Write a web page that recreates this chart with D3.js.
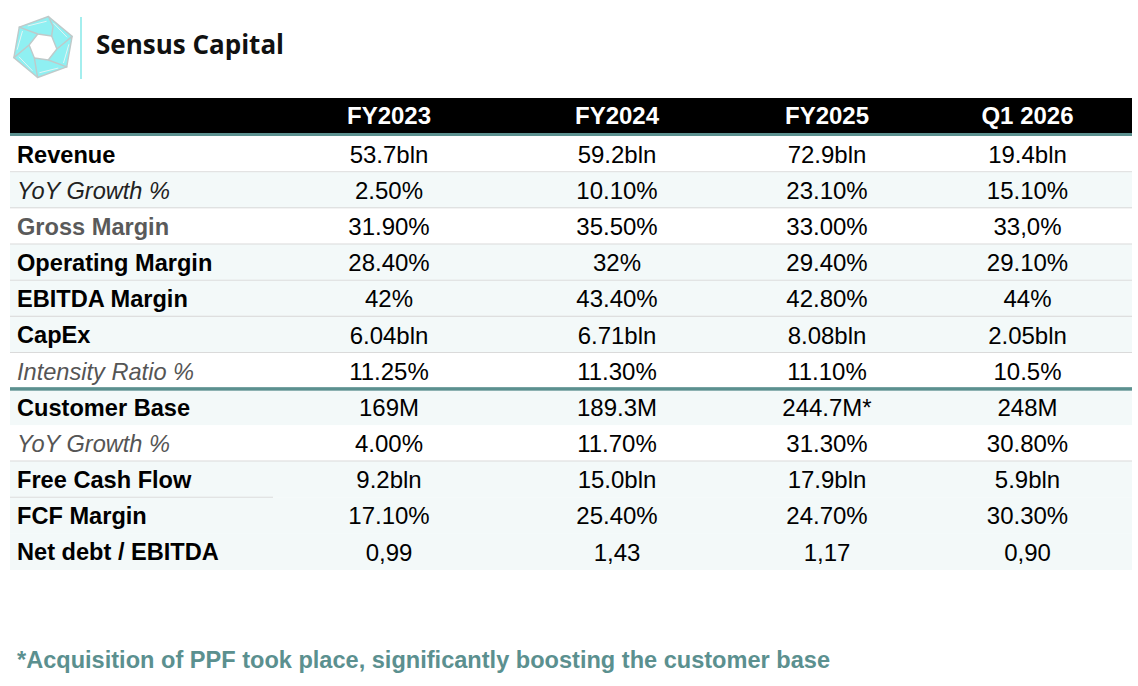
<!DOCTYPE html>
<html>
<head>
<meta charset="utf-8">
<script src="https://cdn.jsdelivr.net/npm/d3@7"></script>
<style>
  body { margin: 0; background: #fff; }
  svg { display: block; }
</style>
</head>
<body>
<svg id="chart" width="1138" height="686"></svg>
<script>
// ---- data ----
const columns = ['FY2023', 'FY2024', 'FY2025', 'Q1 2026'];
const rowLabels = [
  'Revenue', 'YoY Growth %', 'Gross Margin', 'Operating Margin', 'EBITDA Margin', 'CapEx',
  'Intensity Ratio %', 'Customer Base', 'YoY Growth %', 'Free Cash Flow', 'FCF Margin', 'Net debt / EBITDA'
];
const fy2023 = ['53.7bln', '2.50%', '31.90%', '28.40%', '42%', '6.04bln', '11.25%', '169M', '4.00%', '9.2bln', '17.10%', '0,99'];
const fy2024 = ['59.2bln', '10.10%', '35.50%', '32%', '43.40%', '6.71bln', '11.30%', '189.3M', '11.70%', '15.0bln', '25.40%', '1,43'];
const fy2025 = ['72.9bln', '23.10%', '33.00%', '29.40%', '42.80%', '8.08bln', '11.10%', '244.7M*', '31.30%', '17.9bln', '24.70%', '1,17'];
const q12026 = ['19.4bln', '15.10%', '33,0%', '29.10%', '44%', '2.05bln', '10.5%', '248M', '30.80%', '5.9bln', '30.30%', '0,90'];
const footnote = '*Acquisition of PPF took place, significantly boosting the customer base';

// ---- styling per row (kept apart from values) ----
// kind: b = bold black, bg = bold grey, i = italic dark, ig = italic grey
const labelKind = ['b', 'i', 'bg', 'b', 'b', 'b', 'ig', 'b', 'ig', 'b', 'b', 'b'];
const shaded = [false, true, false, true, true, true, false, true, false, true, true, true];
// line under row: full, none, partial (label column only), teal
const lineBelow = ['full', 'full', 'full', 'full', 'full', 'full', 'teal', 'none', 'full', 'partial', 'none', 'none'];

const colValues = [fy2023, fy2024, fy2025, q12026];

const teal = '#5b908f';
const shade = '#f3f9f9';
const sepColor = '#dadada';
const font = "'Liberation Sans', Arial, Helvetica, sans-serif";

const L = { left: 10, right: 1132, labelRight: 273, headTop: 98, headBottom: 133, bodyTop: 136, bodyBottom: 570 };
const colEdges = [275, 503, 731, 923, 1132];

const svg = d3.select('#chart');

// ---- scales ----
const y = d3.scaleBand()
  .domain(d3.range(rowLabels.length))
  .range([L.bodyTop, L.bodyBottom]);

const x = d3.scaleOrdinal()
  .domain(columns)
  .range(columns.map((c, i) => (colEdges[i] + colEdges[i + 1]) / 2));

// ---- logo ----
const logo = svg.append('g').attr('class', 'g_logo').attr('transform', 'translate(43,47)');
const hexPt = (r, a) => [r * Math.cos((a - 90) * Math.PI / 180), r * Math.sin((a - 90) * Math.PI / 180)];
d3.range(6).forEach(i => {
  const a0 = i * 60 + 10, a1 = a0 + 60;
  const pts = [hexPt(31, a0), hexPt(31, a1), hexPt(23, a1 + 16), hexPt(14, a1 + 28), hexPt(14, a0 + 28)];
  logo.append('path')
    .attr('d', d3.line()(pts) + 'Z')
    .style('fill', '#8ff0f2')
    .style('stroke', '#bfcaca')
    .style('stroke-width', 1.4)
    .style('stroke-linejoin', 'round');
  // inner fold line on each arm
  logo.append('path')
    .attr('d', d3.line()([hexPt(26, a0 + 14), hexPt(26, a1 - 2)]))
    .style('fill', 'none')
    .style('stroke', '#e4f4f4')
    .style('stroke-width', 1);
});

svg.append('line')
  .attr('x1', 81).attr('x2', 81).attr('y1', 17).attr('y2', 79)
  .style('stroke', '#a4eeee').style('stroke-width', 2);

svg.append('text')
  .attr('x', 96).attr('y', 54)
  .text('Sensus Capital')
  .style('font-family', "'Open Sans', 'Noto Sans', sans-serif")
  .style('font-weight', 700)
  .style('font-size', '26px')
  .style('fill', '#111');

// ---- header ----
svg.append('rect')
  .attr('x', L.left).attr('y', L.headTop)
  .attr('width', L.right - L.left).attr('height', L.headBottom - L.headTop)
  .style('fill', '#000');
svg.append('rect')
  .attr('x', L.left).attr('y', L.headBottom)
  .attr('width', L.right - L.left).attr('height', 3)
  .style('fill', teal);

svg.selectAll('.head_text')
  .data(columns)
  .enter()
  .append('text')
  .attr('class', 'head_text')
  .attr('x', d => x(d))
  .attr('y', (L.headTop + L.headBottom) / 2)
  .attr('dy', '0.36em')
  .attr('text-anchor', 'middle')
  .text(d => d)
  .style('font-family', font)
  .style('font-weight', 'bold')
  .style('font-size', '24px')
  .style('fill', '#fff');

// ---- rows ----
const gRows = svg.selectAll('.g_row')
  .data(rowLabels)
  .enter()
  .append('g')
  .attr('class', (d, i) => 'g_row g_row_' + i);

gRows.append('rect')
  .attr('x', L.left).attr('y', (d, i) => y(i))
  .attr('width', L.right - L.left).attr('height', y.bandwidth())
  .style('fill', (d, i) => shaded[i] ? shade : '#fff');

gRows.each(function(d, i) {
  const row = d3.select(this);
  const yb = y(i) + y.bandwidth();
  const kind = lineBelow[i];
  if (kind === 'full' || kind === 'partial') {
    row.append('line')
      .attr('x1', L.left).attr('x2', kind === 'full' ? L.right : L.labelRight)
      .attr('y1', yb).attr('y2', yb)
      .style('stroke', sepColor).style('stroke-width', 2);
  }
});

gRows.append('text')
  .attr('x', 17)
  .attr('y', (d, i) => y(i) + y.bandwidth() / 2)
  .attr('dy', '0.36em')
  .text(d => d)
  .style('font-family', font)
  .style('font-size', '23.6px')
  .style('font-weight', (d, i) => labelKind[i][0] === 'b' ? 'bold' : 'normal')
  .style('font-style', (d, i) => labelKind[i][0] === 'i' ? 'italic' : 'normal')
  .style('fill', (d, i) => labelKind[i] === 'bg' ? '#5a5a5a' : labelKind[i] === 'ig' ? '#555' : labelKind[i] === 'i' ? '#222' : '#000');

columns.forEach((col, ci) => {
  svg.selectAll('.val_' + ci)
    .data(colValues[ci])
    .enter()
    .append('text')
    .attr('class', 'val_' + ci)
    .attr('x', x(col))
    .attr('y', (d, i) => y(i) + y.bandwidth() / 2)
    .attr('dy', '0.36em')
    .attr('text-anchor', 'middle')
    .text(d => d)
    .style('font-family', font)
    .style('font-size', '24px')
    .style('fill', '#000');
});

// teal divider drawn last so it sits over the row fills
const tealRow = lineBelow.indexOf('teal');
svg.append('rect')
  .attr('x', L.left).attr('y', y(tealRow) + y.bandwidth() - 2)
  .attr('width', L.right - L.left).attr('height', 3.5)
  .style('fill', teal);

// ---- footnote ----
svg.append('text')
  .attr('x', 17).attr('y', 660)
  .attr('dy', '0.36em')
  .attr('textLength', 813)
  .attr('lengthAdjust', 'spacingAndGlyphs')
  .text(footnote)
  .style('font-family', font)
  .style('font-weight', 'bold')
  .style('font-size', '23px')
  .style('fill', teal);
</script>
</body>
</html>
